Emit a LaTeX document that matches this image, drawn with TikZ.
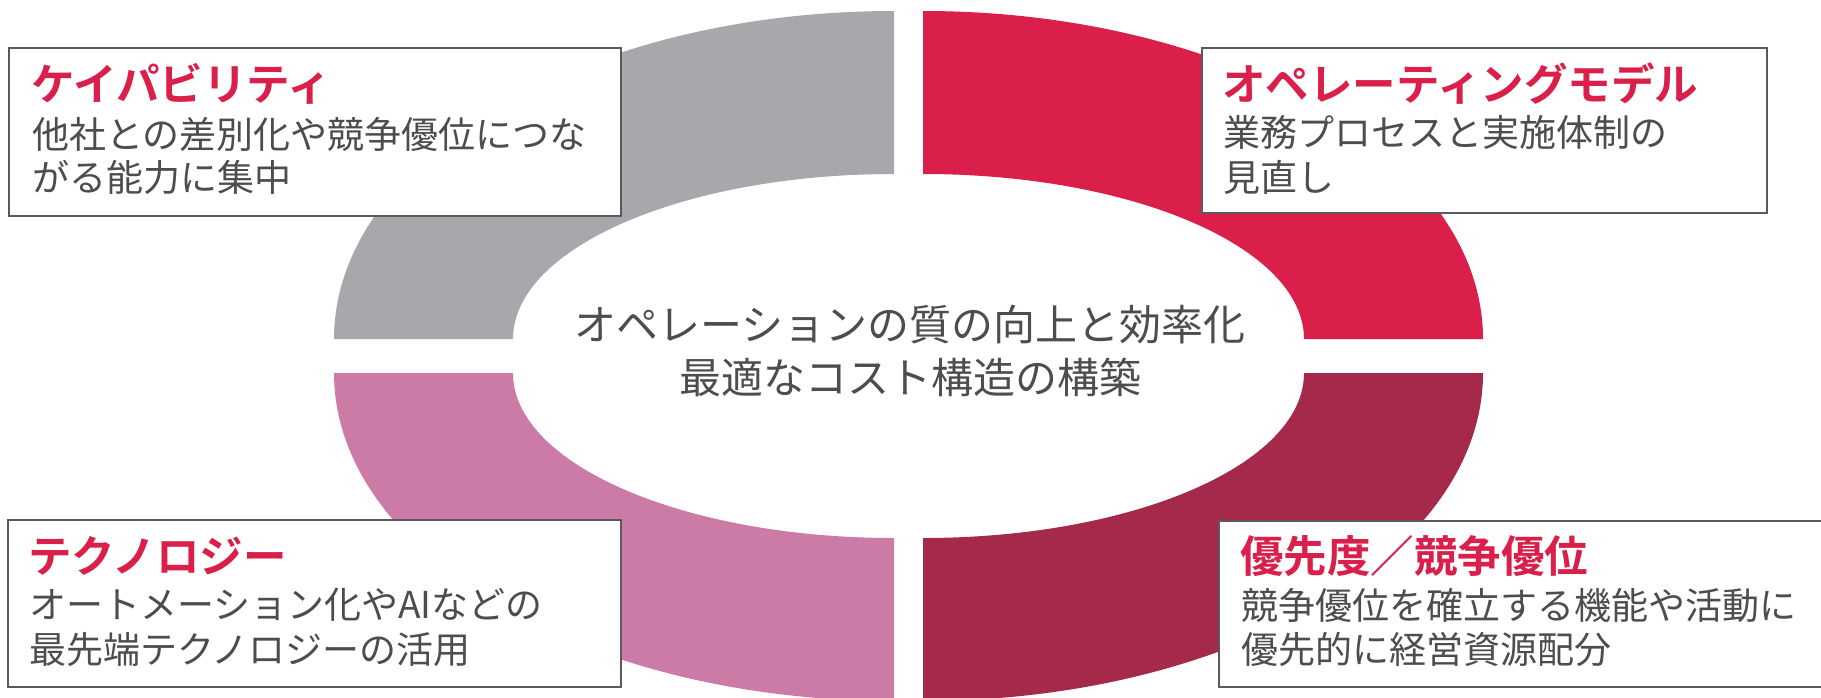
\documentclass[tikz,border=0pt]{standalone}
\usepackage{fontspec}
\setmainfont{Noto Sans CJK JP}[BoldFont={Noto Sans CJK JP Bold}]
\definecolor{qgray}{HTML}{A7A8AC}
\definecolor{qred}{HTML}{D91F4A}
\definecolor{qpink}{HTML}{CC7AA6}
\definecolor{qwine}{HTML}{A5294B}
\definecolor{ttlred}{HTML}{D91F4A}
\definecolor{txtgray}{HTML}{4D4D4D}
\definecolor{boxline}{HTML}{5A5A5A}
\tikzset{
  infobox/.style={draw=boxline, line width=2pt, fill=white, rectangle, inner sep=0pt},
  ttl/.style={anchor=base west, inner sep=0pt, text=ttlred, font=\fontsize{43.5}{50}\selectfont\bfseries},
  bodytxt/.style={anchor=base west, inner sep=0pt, text=txtgray, font=\fontsize{37}{44.5}\selectfont},
  centertxt/.style={anchor=base, inner sep=0pt, text=txtgray, font=\fontsize{42}{53}\selectfont}
}
\begin{document}
\begin{tikzpicture}[x=1pt,y=-1pt]
\useasboundingbox (0,0) rectangle (1821,697);
\clip (0,0) rectangle (1821,697);
% ring quadrants
\fill[qgray] (894,11) arc[start angle=90, end angle=180, x radius=560pt, y radius=328pt]
  -- (513,339) arc[start angle=180, end angle=90, x radius=381pt, y radius=165pt] -- cycle;
\fill[qred] (923,11) arc[start angle=90, end angle=0, x radius=560pt, y radius=328pt]
  -- (1304,339) arc[start angle=0, end angle=90, x radius=381pt, y radius=165pt] -- cycle;
\fill[qpink] (334,373) arc[start angle=180, end angle=270, x radius=560pt, y radius=328pt]
  -- (894,538) arc[start angle=270, end angle=180, x radius=381pt, y radius=165pt] -- cycle;
\fill[qwine] (1483,373) arc[start angle=0, end angle=-90, x radius=560pt, y radius=328pt]
  -- (923,538) arc[start angle=-90, end angle=0, x radius=381pt, y radius=165pt] -- cycle;
% center text
\node[centertxt] (c1) at (910,340) {オペレーションの質の向上と効率化};
\node[centertxt] (c2) at (910,393) {最適なコスト構造の構築};
% boxes
\node[infobox, minimum width=612pt, minimum height=168pt] (capbox) at (315.3,131.7) {};
\node[ttl] (capttl) at (31,100) {ケイパビリティ};
\node[bodytxt] (capb1) at (32,148) {他社との差別化や競争優位につな};
\node[bodytxt] (capb2) at (32,191) {がる能力に集中};

\node[infobox, minimum width=565pt, minimum height=165.5pt] (opbox) at (1484.4,130.5) {};
\node[ttl] (opttl) at (1222,100) {オペレーティングモデル};
\node[bodytxt] (opb1) at (1223,146) {業務プロセスと実施体制の};
\node[bodytxt] (opb2) at (1223,191) {見直し};

\node[infobox, minimum width=613.5pt, minimum height=167pt] (techbox) at (314.3,603.5) {};
\node[ttl] (techttl) at (28,572) {テクノロジー};
\node[bodytxt] (techb1) at (29,618) {オートメーション化やAIなどの};
\node[bodytxt] (techb2) at (29,663) {最先端テクノロジーの活用};

\node[infobox, minimum width=620pt, minimum height=166pt] (pribox) at (1529,603.7) {};
\node[ttl] (prittl) at (1240,572) {優先度／競争優位};
\node[bodytxt] (prib1) at (1241,619) {競争優位を確立する機能や活動に};
\node[bodytxt] (prib2) at (1241,663) {優先的に経営資源配分};
\end{tikzpicture}
\end{document}
